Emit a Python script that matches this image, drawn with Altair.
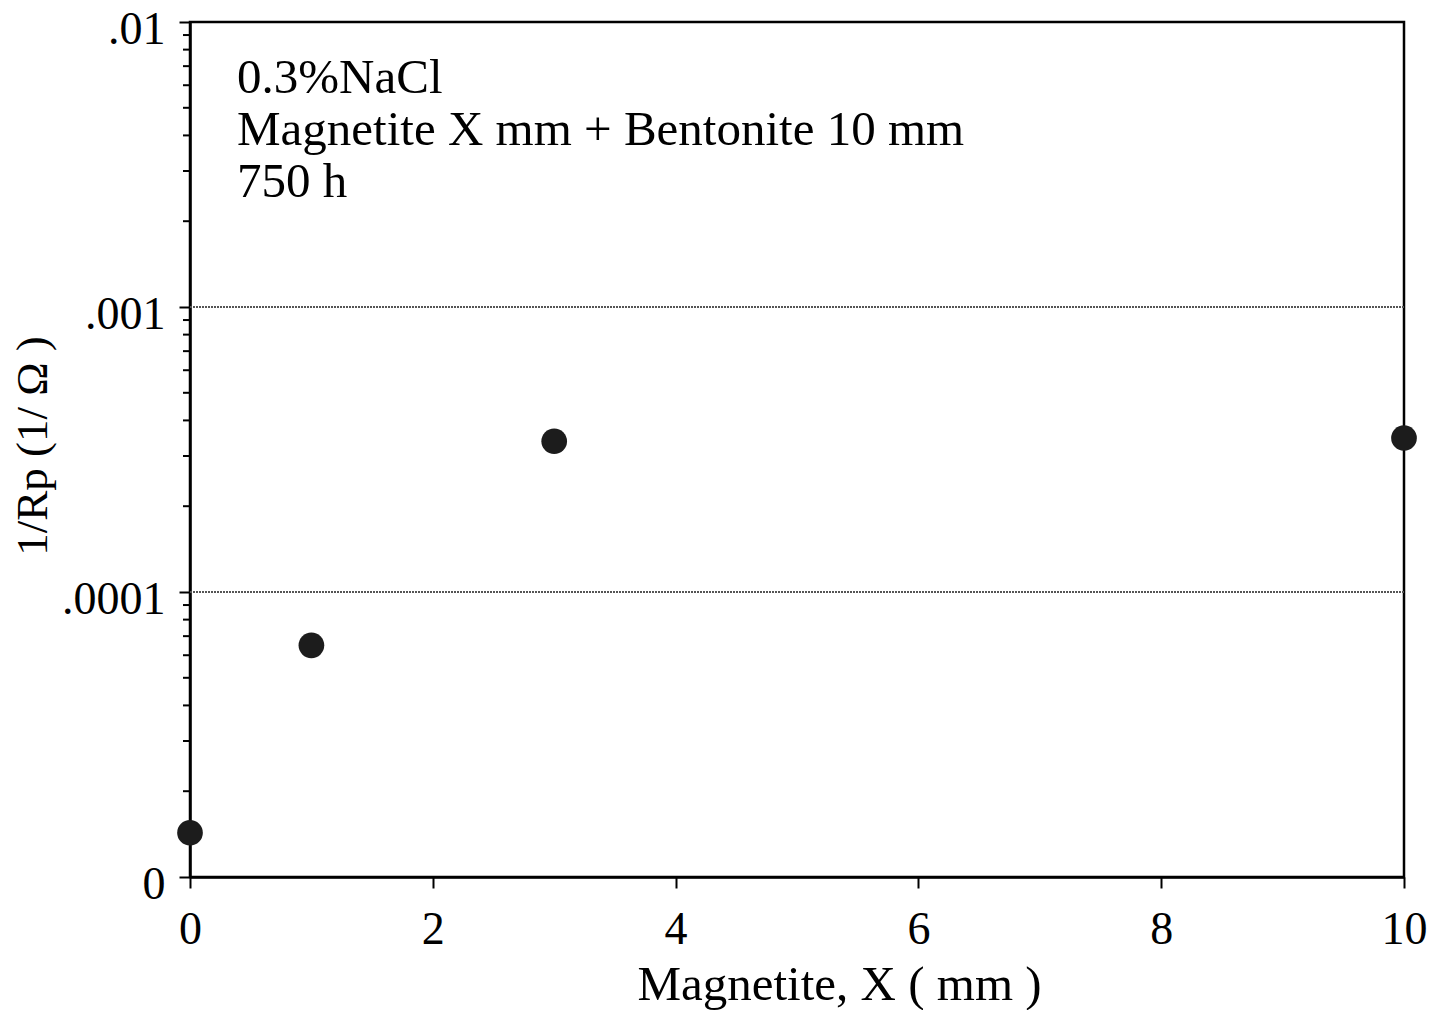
import altair as alt
import pandas as pd

# data
magnetite_mm = [0, 1, 3, 10]
inv_rp = [1.43e-5, 6.5e-5, 3.38e-4, 3.47e-4]
y_major = [1e-5, 1e-4, 1e-3, 1e-2]
grid_vals = [1e-4, 1e-3]
minor_vals = [m * d for d in [1e-5, 1e-4, 1e-3] for m in range(2, 10)]
x_ticks = [0, 2, 4, 6, 8, 10]
notes = ["0.3%NaCl", "Magnetite X mm + Bentonite 10 mm", "750 h"]

FONT = "Liberation Serif"
W, H = 1214, 855

df = pd.DataFrame({"x": magnetite_mm, "y": inv_rp})
yscale = alt.Scale(type="log", domain=[1e-5, 1e-2], nice=False)
xscale = alt.Scale(domain=[0, 10], nice=False)

points = alt.Chart(df).mark_point(
    shape="circle", filled=True, size=660, color="#1c1c1c", opacity=1
).encode(
    x=alt.X("x:Q", scale=xscale,
            axis=alt.Axis(values=x_ticks, title="Magnetite, X ( mm )", grid=False,
                          tickSize=11, tickColor="black", tickWidth=2,
                          domainColor="black", domainWidth=2.5,
                          labelFont=FONT, labelFontSize=46, labelColor="black",
                          labelPadding=19, labelFlush=False,
                          titleFont=FONT, titleFontSize=49,
                          titleFontWeight="normal", titleColor="black",
                          titlePadding=8, titleX=W / 2 + 42, format="d")),
    y=alt.Y("y:Q", scale=yscale,
            axis=alt.Axis(values=y_major, title="1/Rp (1/ Ω )", grid=False,
                          tickSize=11, tickColor="black", tickWidth=2,
                          domainColor="black", domainWidth=2.5,
                          labelFont=FONT, labelFontSize=46, labelColor="black",
                          labelPadding=14, labelFlush=False, labelOffset=7,
                          labelExpr="datum.value < 2e-5 ? '0' : datum.value < 2e-4 ? '.0001' : datum.value < 2e-3 ? '.001' : '.01'",
                          titleFont=FONT, titleFontSize=45, titleFontWeight="normal",
                          titleColor="black", titlePadding=6, titleY=H / 2 - 4)),
)

grid = alt.Chart(pd.DataFrame({"g": grid_vals})).mark_rule(
    color="#555", strokeWidth=2, strokeDash=[2, 1]
).encode(y=alt.Y("g:Q", scale=yscale))

minor = alt.Chart(pd.DataFrame({"m": minor_vals})).mark_rule(
    color="black", strokeWidth=2
).encode(y=alt.Y("m:Q", scale=yscale), x=alt.value(-7), x2=alt.value(0))

note = alt.Chart(pd.DataFrame({"t": [0]})).mark_text(
    align="left", baseline="alphabetic", font=FONT, fontSize=49,
    lineHeight=52, color="black"
).encode(x=alt.value(47), y=alt.value(71), text=alt.value(notes))

chart = alt.layer(grid, minor, points, note).properties(
    width=W, height=H,
    autosize=alt.AutoSizeParams(type="none"),
    padding={"left": 190, "top": 22, "right": 30, "bottom": 133},
    background="white",
).configure_view(stroke="black", strokeWidth=2.5)

chart.save("out.html", embed_options={"renderer": "svg", "actions": False})
